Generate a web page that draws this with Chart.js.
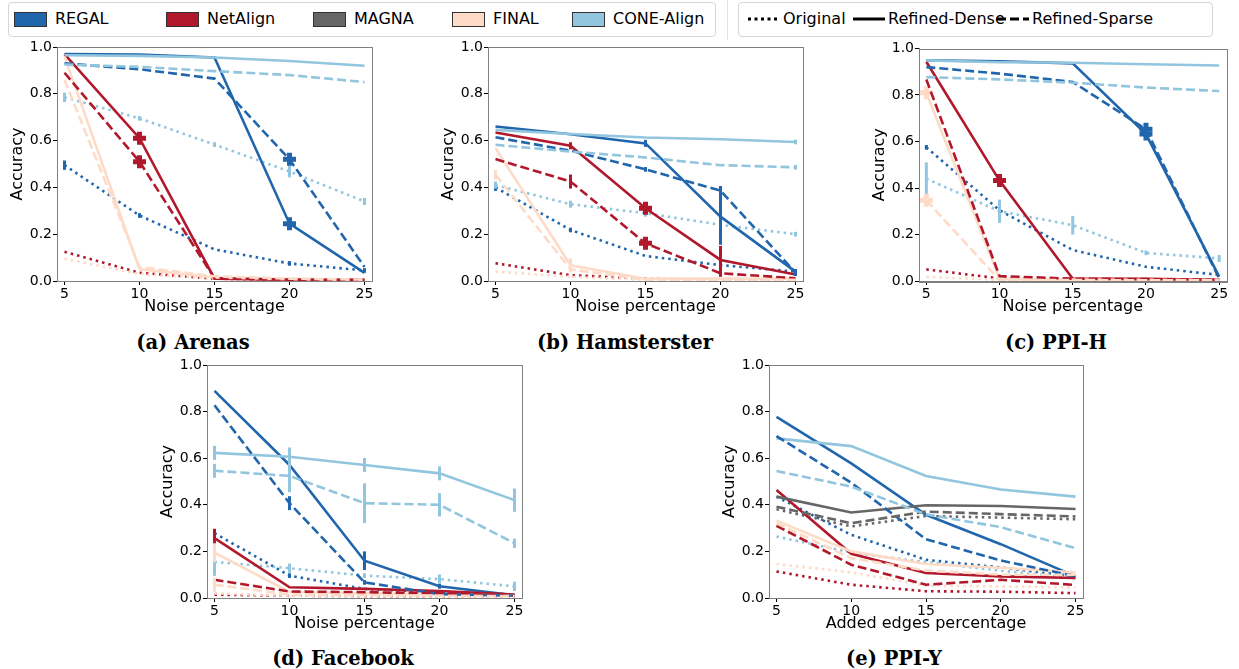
<!DOCTYPE html>
<html>
<head>
<meta charset="utf-8">
<script src="https://cdn.jsdelivr.net/npm/chart.js@4.4.1/dist/chart.umd.min.js"></script>
<style>
  body { margin: 0; width: 1239px; height: 669px; background: #fff; position: relative; overflow: hidden; font-family: "DejaVu Sans", sans-serif; }
  canvas { position: absolute; }
  .box { position: absolute; border: 1.5px solid #d6d6d6; border-radius: 4px; box-sizing: border-box; }
  .patch { position: absolute; width: 33px; height: 15px; border: 1px solid #333; box-sizing: border-box; }
  .lbl { position: absolute; font-size: 16px; line-height: 20px; color: #000; white-space: nowrap; }
  .sample { position: absolute; }
  .cap { position: absolute; font-family: "DejaVu Serif", serif; font-weight: bold; font-size: 19.5px; white-space: nowrap; transform: translate(-50%, -50%); }
</style>
</head>
<body>

<div class="box" style="left:8px;top:2px;width:708px;height:35px"></div>
<div style="position:absolute;left:727px;top:0;width:1px;height:40px;background:#e4e4e4"></div>
<div class="box" style="left:738px;top:2px;width:475px;height:35px"></div>
<div id="legend"></div>

<canvas id="arenas"></canvas>
<canvas id="hamsterster"></canvas>
<canvas id="ppih"></canvas>
<canvas id="facebook"></canvas>
<canvas id="ppiy"></canvas>

<div class="cap" style="left:193px;top:342px">(a) Arenas</div>
<div class="cap" style="left:625px;top:342px">(b) Hamsterster</div>
<div class="cap" style="left:1056px;top:342px">(c) PPI-H</div>
<div class="cap" style="left:343px;top:658px">(d) Facebook</div>
<div class="cap" style="left:894px;top:658px">(e) PPI-Y</div>

<script>
const noiseLevels = [5, 10, 15, 20, 25];
const yTicks = [0, 0.2, 0.4, 0.6, 0.8, 1.0];
const methods = ['REGAL', 'NetAlign', 'MAGNA', 'FINAL', 'CONE-Align'];
const variants = ['Original', 'Refined-Dense', 'Refined-Sparse'];
const methodColors = ['#2166ac', '#b2182b', '#666666', '#fddbc7', '#92c5de'];

// accuracy per method, rows: original, refined-dense, refined-sparse
const arenasREGAL = [[0.495, 0.28, 0.135, 0.075, 0.045], [0.97, 0.968, 0.955, 0.245, 0.035], [0.93, 0.905, 0.865, 0.52, 0.06]];
const arenasNetAlign = [[0.125, 0.035, 0.01, 0.005, 0.004], [0.97, 0.61, 0.01, 0.006, 0.005], [0.89, 0.51, 0.012, 0.006, 0.005]];
const arenasFINAL = [[0.095, 0.03, 0.01, 0.005, 0.004], [0.96, 0.05, 0.015, 0.008, 0.005], [0.86, 0.06, 0.02, 0.01, 0.006]];
const arenasCONE = [[0.785, 0.695, 0.583, 0.468, 0.34], [0.965, 0.962, 0.955, 0.94, 0.92], [0.925, 0.915, 0.897, 0.88, 0.85]];

const hamREGAL = [[0.40, 0.218, 0.107, 0.068, 0.04], [0.66, 0.627, 0.588, 0.275, 0.04], [0.614, 0.557, 0.477, 0.386, 0.036]];
const hamNetAlign = [[0.076, 0.025, 0.01, 0.005, 0.003], [0.635, 0.578, 0.311, 0.09, 0.028], [0.521, 0.425, 0.161, 0.033, 0.012]];
const hamFINAL = [[0.04, 0.018, 0.005, 0.004, 0.003], [0.568, 0.067, 0.01, 0.01, 0.01], [0.454, 0.05, 0.005, 0.005, 0.005]];
const hamCONE = [[0.41, 0.328, 0.29, 0.24, 0.20], [0.646, 0.628, 0.613, 0.606, 0.594], [0.582, 0.553, 0.528, 0.495, 0.486]];

const ppihREGAL = [[0.575, 0.304, 0.133, 0.061, 0.026], [0.949, 0.945, 0.936, 0.632, 0.019], [0.92, 0.892, 0.856, 0.653, 0.011]];
const ppihNetAlign = [[0.05, 0.011, 0.006, 0.005, 0.004], [0.943, 0.432, 0.01, 0.01, 0.005], [0.867, 0.021, 0.01, 0.008, 0.005]];
const ppihFINAL = [[0.018, 0.005, 0.004, 0.003, 0.003], [0.81, 0.01, 0.006, 0.005, 0.004], [0.347, 0.004, 0.004, 0.003, 0.003]];
const ppihCONE = [[0.44, 0.30, 0.24, 0.121, 0.097], [0.949, 0.941, 0.939, 0.932, 0.927], [0.877, 0.867, 0.853, 0.832, 0.817]];

const fbREGAL = [[0.278, 0.096, 0.039, 0.025, 0.015], [0.889, 0.571, 0.16, 0.05, 0.012], [0.827, 0.407, 0.067, 0.017, 0.01]];
const fbNetAlign = [[0.014, 0.01, 0.008, 0.006, 0.005], [0.257, 0.046, 0.039, 0.03, 0.015], [0.078, 0.028, 0.025, 0.02, 0.01]];
const fbFINAL = [[0.02, 0.01, 0.008, 0.006, 0.005], [0.195, 0.026, 0.02, 0.015, 0.01], [0.057, 0.015, 0.012, 0.01, 0.008]];
const fbCONE = [[0.155, 0.128, 0.096, 0.081, 0.05], [0.623, 0.606, 0.571, 0.535, 0.42], [0.546, 0.524, 0.407, 0.40, 0.235]];

const ppiyREGAL = [[0.435, 0.271, 0.164, 0.131, 0.093], [0.777, 0.578, 0.357, 0.231, 0.093], [0.695, 0.495, 0.252, 0.161, 0.093]];
const ppiyNetAlign = [[0.114, 0.057, 0.029, 0.027, 0.021], [0.464, 0.19, 0.107, 0.093, 0.086], [0.31, 0.143, 0.057, 0.078, 0.056]];
const ppiyMAGNA = [[0.381, 0.307, 0.352, 0.345, 0.338], [0.435, 0.367, 0.398, 0.395, 0.382], [0.392, 0.321, 0.371, 0.36, 0.35]];
const ppiyFINAL = [[0.146, 0.11, 0.053, 0.05, 0.045], [0.332, 0.20, 0.146, 0.13, 0.11], [0.321, 0.171, 0.118, 0.1, 0.1]];
const ppiyCONE = [[0.264, 0.195, 0.154, 0.117, 0.086], [0.685, 0.652, 0.524, 0.466, 0.435], [0.545, 0.478, 0.359, 0.304, 0.214]];

// std bars: [method, variant index, half-widths per noise level]
const arenasErr = [
  ['REGAL', 0, [0.02, 0.01, 0, 0.01, 0.01]], ['CONE-Align', 0, [0.02, 0.01, 0.01, 0.025, 0.015]],
  ['REGAL', 1, [0, 0, 0, 0.02, 0]], ['REGAL', 2, [0, 0, 0, 0.02, 0]],
  ['NetAlign', 1, [0, 0.015, 0, 0, 0]], ['NetAlign', 2, [0, 0.015, 0, 0, 0]]
];
const hamErr = [
  ['REGAL', 0, [0.015, 0.01, 0, 0, 0]], ['REGAL', 1, [0, 0, 0.015, 0.12, 0.01]], ['REGAL', 2, [0, 0, 0.01, 0.02, 0.015]],
  ['NetAlign', 1, [0, 0.015, 0, 0.06, 0]], ['NetAlign', 2, [0, 0.03, 0, 0.015, 0]],
  ['FINAL', 1, [0, 0.03, 0, 0, 0]], ['FINAL', 2, [0.02, 0, 0, 0, 0]],
  ['CONE-Align', 0, [0.015, 0.015, 0.015, 0.03, 0.01]], ['CONE-Align', 1, [0, 0.005, 0, 0, 0.01]], ['CONE-Align', 2, [0, 0, 0, 0, 0.01]]
];
const ppihErr = [
  ['CONE-Align', 0, [0.07, 0.05, 0.04, 0.01, 0.015]], ['REGAL', 0, [0.01, 0, 0, 0, 0]]
];
const fbErr = [
  ['CONE-Align', 1, [0.03, 0.04, 0.03, 0.03, 0.05]], ['CONE-Align', 2, [0.03, 0.07, 0.085, 0.05, 0.02]],
  ['CONE-Align', 0, [0.06, 0.02, 0.01, 0.02, 0.02]], ['REGAL', 1, [0, 0, 0.04, 0.01, 0]],
  ['REGAL', 2, [0, 0.03, 0.01, 0, 0]], ['REGAL', 0, [0.015, 0.01, 0, 0, 0]],
  ['NetAlign', 1, [0.04, 0, 0, 0, 0]], ['FINAL', 1, [0.04, 0, 0, 0, 0]], ['FINAL', 2, [0.03, 0, 0, 0, 0]]
];
const ppiyErr = [];

// bold plus markers: [method, variant index, noise level index]
const arenasPlus = [['REGAL', 1, 3], ['REGAL', 2, 3], ['NetAlign', 1, 1], ['NetAlign', 2, 1]];
const hamPlus = [['NetAlign', 1, 2], ['NetAlign', 2, 2]];
const ppihPlus = [['REGAL', 1, 3], ['REGAL', 2, 3], ['NetAlign', 1, 1], ['FINAL', 1, 0], ['FINAL', 2, 0]];
const fbPlus = [];
const ppiyPlus = [];

// ---- legends (HTML) ----
const legendEl = document.getElementById('legend');
const patchX = [14, 166, 313, 452, 572];
methods.forEach((m, i) => {
  legendEl.insertAdjacentHTML('beforeend',
    `<div class="patch" style="left:${patchX[i]}px;top:12px;background:${methodColors[i]}"></div>` +
    `<div class="lbl" style="left:${patchX[i] + 41}px;top:9px">${m}</div>`);
});
const dashes = ['3,3.5', '', '9,4'];
const sampleX = [748, 853, 997];
variants.forEach((v, i) => {
  legendEl.insertAdjacentHTML('beforeend',
    `<svg class="sample" style="left:${sampleX[i]}px;top:14px" width="32" height="10"><line x1="0" y1="5" x2="32" y2="5" stroke="#000" stroke-width="3" ${dashes[i] ? 'stroke-dasharray="' + dashes[i] + '"' : ''}/></svg>` +
    `<div class="lbl" style="left:${sampleX[i] + 35}px;top:9px">${v}</div>`);
});

// ---- chart helpers ----
const dashStyles = [[2.5, 4], [], [9, 4]];

const errorBars = {
  id: 'errorBars',
  afterDatasetDraw(chart, args) {
    const ds = chart.data.datasets[args.index];
    if (!ds.errors) return;
    const {ctx, scales: {y}} = chart;
    ctx.save();
    ctx.strokeStyle = ds.borderColor;
    ctx.lineWidth = 3;
    ds.errors.forEach((e, j) => {
      if (!e) return;
      const x = args.meta.data[j].x;
      ctx.beginPath();
      ctx.moveTo(x, y.getPixelForValue(ds.data[j].y - e));
      ctx.lineTo(x, y.getPixelForValue(ds.data[j].y + e));
      ctx.stroke();
    });
    ctx.restore();
  }
};

const frame = {
  id: 'frame',
  afterDraw(chart) {
    const {ctx, chartArea: a} = chart;
    ctx.save();
    ctx.strokeStyle = '#808080';
    ctx.lineWidth = 1;
    ctx.strokeRect(Math.round(a.left) + 0.5, Math.round(a.top) + 0.5, Math.round(a.right - a.left), Math.round(a.bottom - a.top));
    ctx.restore();
  }
};

const tickFont = {family: 'DejaVu Sans', size: 14};
const titleFont = {family: 'DejaVu Sans', size: 16};

function makePanel(id, area, table, errs, plus, xTitle) {
  const cv = document.getElementById(id);
  const padL = 57, padT = 10, padR = 4, padB = 44;
  cv.width = padL + area.w + padR;
  cv.height = padT + area.h + padB;
  cv.style.left = (area.left - padL) + 'px';
  cv.style.top = (area.top - padT) + 'px';

  const datasets = [];
  variants.forEach((v, vi) => {
    methods.forEach((m, mi) => {
      const rows = table[m];
      if (!rows) return;
      const err = errs.find(e => e[0] === m && e[1] === vi);
      const marks = plus.filter(p => p[0] === m && p[1] === vi).map(p => p[2]);
      datasets.push({
        label: m + ' ' + v,
        data: noiseLevels.map((x, k) => ({x, y: rows[vi][k]})),
        errors: err ? err[2] : null,
        borderColor: methodColors[mi],
        backgroundColor: methodColors[mi],
        borderWidth: 2.6,
        borderDash: dashStyles[vi],
        pointStyle: 'cross',
        pointRadius: noiseLevels.map((_, k) => marks.includes(k) ? 6.5 : 0),
        pointBorderWidth: 5,
        pointBorderColor: methodColors[mi],
        order: -datasets.length
      });
    });
  });

  new Chart(cv, {
    type: 'line',
    data: {datasets},
    options: {
      responsive: false,
      animation: false,
      events: [],
      layout: {padding: {left: 0, top: padT, right: padR, bottom: 0}},
      plugins: {legend: {display: false}, tooltip: {enabled: false}},
      elements: {line: {tension: 0}},
      scales: {
        x: {
          type: 'linear', min: 4.5, max: 25.5,
          afterBuildTicks: s => { s.ticks = noiseLevels.map(value => ({value})); },
          afterFit: s => { s.height = padB; },
          grid: {drawOnChartArea: false, tickLength: 4, color: '#000'},
          border: {color: '#808080'},
          ticks: {font: tickFont, color: '#000', padding: 1, maxRotation: 0},
          title: {display: true, text: xTitle, font: titleFont, color: '#000', padding: {top: 0, bottom: 9}}
        },
        y: {
          min: 0, max: 1,
          afterBuildTicks: s => { s.ticks = yTicks.map(value => ({value})); },
          afterFit: s => { s.width = padL; },
          grid: {drawOnChartArea: false, tickLength: 4, color: '#000'},
          border: {color: '#808080'},
          ticks: {font: tickFont, color: '#000', padding: 1, callback: v => v.toFixed(1)},
          title: {display: true, text: 'Accuracy', font: titleFont, color: '#000', padding: {top: 8, bottom: 0}}
        }
      }
    },
    plugins: [errorBars, frame]
  });
}

makePanel('arenas', {left: 57, top: 47, w: 315, h: 234},
  {'REGAL': arenasREGAL, 'NetAlign': arenasNetAlign, 'FINAL': arenasFINAL, 'CONE-Align': arenasCONE},
  arenasErr, arenasPlus, 'Noise percentage');
makePanel('hamsterster', {left: 488, top: 47, w: 315, h: 234},
  {'REGAL': hamREGAL, 'NetAlign': hamNetAlign, 'FINAL': hamFINAL, 'CONE-Align': hamCONE},
  hamErr, hamPlus, 'Noise percentage');
makePanel('ppih', {left: 919, top: 47, w: 315, h: 234},
  {'REGAL': ppihREGAL, 'NetAlign': ppihNetAlign, 'FINAL': ppihFINAL, 'CONE-Align': ppihCONE},
  ppihErr, ppihPlus, 'Noise percentage');
makePanel('facebook', {left: 207, top: 365, w: 315, h: 233},
  {'REGAL': fbREGAL, 'NetAlign': fbNetAlign, 'FINAL': fbFINAL, 'CONE-Align': fbCONE},
  fbErr, fbPlus, 'Noise percentage');
makePanel('ppiy', {left: 769, top: 365, w: 314, h: 233},
  {'REGAL': ppiyREGAL, 'NetAlign': ppiyNetAlign, 'MAGNA': ppiyMAGNA, 'FINAL': ppiyFINAL, 'CONE-Align': ppiyCONE},
  ppiyErr, ppiyPlus, 'Added edges percentage');
</script>
</body>
</html>
